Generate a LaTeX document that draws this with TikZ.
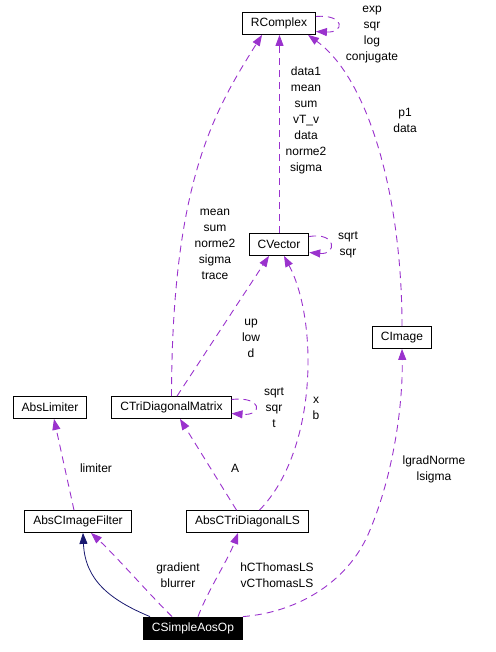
\documentclass[tikz,border=0pt]{standalone}
\usepackage{fontspec}
\setmainfont{Liberation Sans}
\usetikzlibrary{arrows.meta}
\definecolor{usecol}{HTML}{9A32CD}
\definecolor{inhcol}{HTML}{191970}
\tikzset{
  cls/.style={draw, line width=0.8pt, minimum height=22pt, inner xsep=8.5pt, inner ysep=0pt},
  lbl/.style={align=center, inner sep=0pt},
  use/.style={usecol, line width=0.9pt, dash pattern=on 7pt off 5pt, -{Triangle[length=11pt,width=8pt]}},
  inh/.style={inhcol, line width=0.8pt, -{Triangle[length=11pt,width=8pt]}},
}
\begin{document}
\begin{tikzpicture}[x=1pt, y=-1pt, font=\fontsize{12}{16}\selectfont]
\useasboundingbox (0,0) rectangle (495,652);
\node[cls] (rcomplex) at (279,23.5) {RComplex};
\node[cls] (cvector) at (279,244.5) {CVector};
\node[cls] (cimage) at (402,337.5) {CImage};
\node[cls] (abslimiter) at (50,407.5) {AbsLimiter};
\node[cls] (ctridiag) at (171.5,407.5) {CTriDiagonalMatrix};
\node[cls] (absfilter) at (78,521.5) {AbsCImageFilter};
\node[cls] (abstridiagls) at (247.5,521.5) {AbsCTriDiagonalLS};
\node[cls, fill=black, text=white] (aosop) at (193,628) {CSimpleAosOp};

\draw[use] ([yshift=7pt]rcomplex.east) .. controls (345,14) and (345,33) .. ([yshift=-8pt]rcomplex.east);
\node[lbl] (rcomplexops) at (372,35) {exp\\sqr\\log\\conjugate};
\draw[use] ([xshift=0.5pt]cvector.north) -- ([xshift=0.5pt]rcomplex.south);
\node[lbl] (cvectorfields) at (306,120) {data1\\mean\\sum\\vT\_v\\data\\norme2\\sigma};
\draw[use] (ctridiag.north) .. controls (172,180) and (215,110) .. ([xshift=-17pt]rcomplex.south);
\node[lbl] (ctridiagfields) at (215,244) {mean\\sum\\norme2\\sigma\\trace};
\draw[use] (cimage.north) .. controls (402,200) and (370,80) .. ([xshift=29pt]rcomplex.south);
\node[lbl] (cimagefields) at (405,120) {p1\\data};
\draw[use] ([yshift=8pt]cvector.east) .. controls (337,232) and (337,255) .. ([yshift=-8pt]cvector.east);
\node[lbl] (cvectorops) at (348,245) {sqrt\\sqr};
\draw[use] ([xshift=5.5pt]ctridiag.north) -- ([xshift=-10pt]cvector.south);
\node[lbl] (ctridiagvec) at (251,338) {up\\low\\d};
\draw[use] ([yshift=8pt]ctridiag.east) .. controls (263,396) and (263,416) .. ([yshift=-6pt]ctridiag.east);
\node[lbl] (ctridiagops) at (274,408) {sqrt\\sqr\\t};
\draw[use] ([xshift=12pt]abstridiagls.north) .. controls (318,450) and (318,320) .. ([xshift=5pt]cvector.south);
\node[lbl] (lsvec) at (316,408) {x\\b};
\draw[use] ([xshift=-4pt]absfilter.north) -- ([xshift=4pt]abslimiter.south);
\node[lbl] (filterlim) at (96,468) {limiter};
\draw[use] ([xshift=-11pt]abstridiagls.north) -- ([xshift=8.5pt]ctridiag.south);
\node[lbl] (lsmat) at (235,468) {A};
\draw[inh] ([xshift=-43pt]aosop.north) .. controls (110,600) and (85,580) .. ([xshift=5pt]absfilter.south);
\draw[use] ([xshift=-21pt]aosop.north) .. controls (150,595) and (115,555) .. ([xshift=13pt]absfilter.south);
\node[lbl] (aosfilter) at (178,575.5) {gradient\\blurrer};
\draw[use] ([xshift=5pt]aosop.north) .. controls (208,590) and (228,560) .. ([xshift=-9.5pt]abstridiagls.south);
\node[lbl] (aosls) at (277,575.5) {hCThomasLS\\vCThomasLS};
\draw[use] (aosop.north east) .. controls (300,612) and (350,580) .. (370,530) .. controls (395,470) and (403,400) .. (cimage.south);
\node[lbl] (aosimage) at (434,469) {lgradNorme\\lsigma};
\end{tikzpicture}
\end{document}
